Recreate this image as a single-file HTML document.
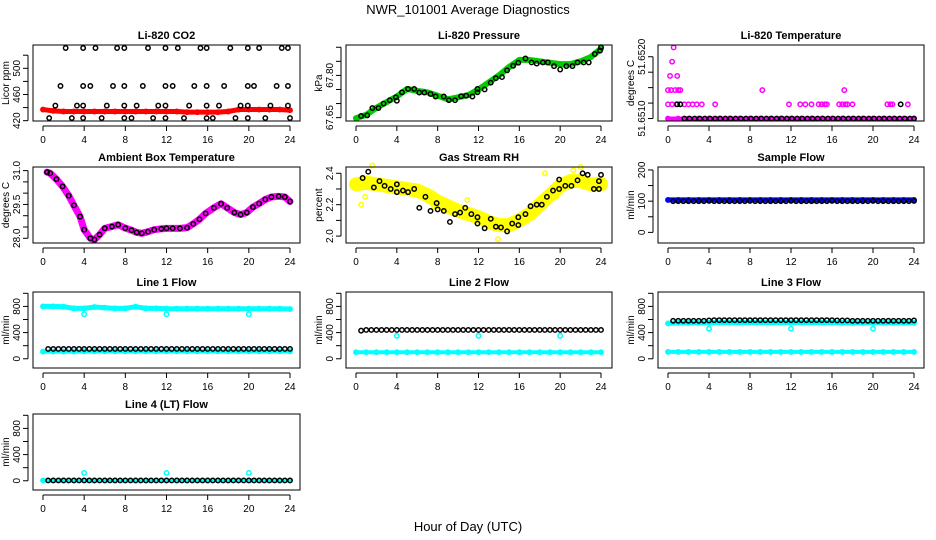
<!DOCTYPE html>
<html><head><meta charset="utf-8"><style>
html,body{margin:0;padding:0;background:#fff;}
svg{display:block;font-family:"Liberation Sans",sans-serif;}
</style></head><body>
<svg id="chart" width="936" height="540" viewBox="0 0 936 540" xmlns="http://www.w3.org/2000/svg">
<rect width="936" height="540" fill="#fff"/>
<text x="468" y="14" font-size="13" text-anchor="middle">NWR_101001  Average Diagnostics</text>
<text x="468" y="531" font-size="13" text-anchor="middle">Hour of Day (UTC)</text>
</svg>
<script>
const hrs=[0,1,2,3,4,5,6,7,8,9,10,11,12,13,14,15,16,17,18,19,20,21,22,23,24];
const halfHrs=[0.5,1,1.5,2,2.5,3,3.5,4,4.5,5,5.5,6,6.5,7,7.5,8,8.5,9,9.5,10,10.5,11,11.5,12,12.5,13,13.5,14,14.5,15,15.5,16,16.5,17,17.5,18,18.5,19,19.5,20,20.5,21,21.5,22,22.5,23,23.5,24];
const xTicks=[0,4,8,12,16,20,24];
const outHrs=[4,12,20];

// CO2
const co2BlackX=[2.2,3.9,5.1,7.2,7.9,10.2,11.9,13.1,15.3,15.9,18.2,19.9,21.0,23.2,23.8,
 1.7,3.9,4.6,6.8,7.9,9.7,11.9,12.6,14.7,15.9,17.6,19.9,20.5,22.7,23.8,
 1.2,3.3,3.9,6.2,7.9,9.1,11.2,11.9,14.2,15.9,17.1,19.2,19.9,22.1,23.8,
 0.6,2.8,3.9,5.7,7.9,8.6,10.7,11.9,13.7,15.9,16.5,18.7,19.9,21.6,24];
const co2BlackY=[531,531,531,531,531,531,531,531,531,531,531,531,531,531,531,
 473,473,473,473,473,473,473,473,473,473,473,473,473,473,473,
 443,443,443,443,443,443,443,443,443,443,443,443,443,443,443,
 424,424,424,424,424,424,424,424,424,424,424,424,424,424,424];
const co2Red=[437,435,434,434,434,434,434,434,434,434,434,434,434,434,433,433,433,433,434,437,437,437,437,437,436];

// Pressure
const presBlackX=[0.5,1.1,1.6,2.2,2.7,3.3,3.9,4.0,4.5,5.1,5.7,6.2,6.7,7.3,7.8,8.6,9.1,9.7,10.3,10.8,11.4,11.9,11.9,12.6,13.2,13.7,14.3,14.8,15.4,15.9,16.6,17.2,17.7,18.3,18.8,19.4,20.0,20.6,21.2,21.7,22.3,22.8,23.4,23.9,24];
const presBlackY=[67.656,67.658,67.684,67.684,67.70,67.712,67.722,67.71,67.74,67.752,67.752,67.739,67.739,67.734,67.725,67.725,67.712,67.712,67.726,67.728,67.725,67.752,67.74,67.75,67.774,67.79,67.794,67.818,67.834,67.845,67.86,67.846,67.842,67.846,67.846,67.833,67.821,67.833,67.833,67.846,67.846,67.846,67.876,67.888,67.9];
const presGreen=[67.648,67.66,67.685,67.705,67.725,67.752,67.745,67.74,67.728,67.715,67.722,67.73,67.75,67.775,67.80,67.83,67.855,67.855,67.85,67.845,67.84,67.84,67.85,67.865,67.895];

// Li-820 temperature
const tempBlackX=[0.9,1.2,22.7,1.6,2.1,2.6,3.1,3.6,4.1,4.6,5.1,5.6,6.1,6.6,7.1,7.6,8.1,8.6,9.1,9.6,10.1,10.6,11.1,11.6,12.1,12.6,13.1,13.6,14.1,14.6,15.1,15.6,16.1,16.6,17.1,17.6,18.1,18.6,19.1,19.6,20.1,20.6,21.1,21.6,22.1,22.6,23.1,23.6,24];
const tempBlackY=[51.65123,51.65123,51.65123,51.6510,51.6510,51.6510,51.6510,51.6510,51.6510,51.6510,51.6510,51.6510,51.6510,51.6510,51.6510,51.6510,51.6510,51.6510,51.6510,51.6510,51.6510,51.6510,51.6510,51.6510,51.6510,51.6510,51.6510,51.6510,51.6510,51.6510,51.6510,51.6510,51.6510,51.6510,51.6510,51.6510,51.6510,51.6510,51.6510,51.6510,51.6510,51.6510,51.6510,51.6510,51.6510,51.6510,51.6510,51.6510,51.6510];
const tempMagBand=[51.6510,51.6510,51.6510,51.6510,51.6510,51.6510,51.6510,51.6510,51.6510,51.6510,51.6510,51.6510,51.6510,51.6510,51.6510,51.6510,51.6510,51.6510,51.6510,51.6510,51.6510,51.6510,51.6510,51.6510,51.6510];
const tempMagX=[0,0.4,0.8,1.2,1.6,2.0,2.4,2.8,3.3,4.6,11.8,12.9,13.4,14.0,14.7,15.0,15.3,15.5,16.7,17.0,17.3,17.5,18.0,21.4,21.7,21.9,23.4,0,0.3,0.7,1.0,1.2,9.2,17.2,0.2,0.9,0.4,0.55];
const tempMagY=[51.65123,51.65123,51.65123,51.65123,51.65123,51.65123,51.65123,51.65123,51.65123,51.65123,51.65123,51.65123,51.65123,51.65123,51.65123,51.65123,51.65123,51.65123,51.65123,51.65123,51.65123,51.65123,51.65123,51.65123,51.65123,51.65123,51.65123,51.65146,51.65146,51.65146,51.65146,51.65146,51.65146,51.65146,51.65169,51.65169,51.65192,51.65215];

// Ambient box temperature
const ambX=[0.4,0.7,1.3,1.9,2.5,3.0,3.6,4.0,4.6,5.0,5.5,6.0,6.7,7.3,8.0,8.6,9.1,9.6,10.2,10.8,11.5,12.0,12.6,13.3,14.0,14.6,15.2,15.8,16.6,17.3,17.9,18.6,19.2,19.8,20.4,21.0,21.6,22.2,22.9,23.5,24];
const ambY=[30.93,30.88,30.62,30.30,29.89,29.46,28.96,28.38,28.0,27.94,28.16,28.44,28.52,28.6,28.45,28.36,28.26,28.22,28.29,28.38,28.42,28.44,28.44,28.44,28.47,28.64,28.84,29.1,29.35,29.53,29.35,29.14,29.05,29.14,29.38,29.54,29.72,29.83,29.86,29.83,29.63];

// Gas stream RH
const rhBlackX=[0.65,1.2,1.75,2.3,2.8,3.4,4.0,4.0,4.6,5.1,5.7,6.2,6.8,7.3,7.9,8.0,8.6,9.2,9.7,10.2,10.7,11.3,11.9,11.9,12.6,13.2,13.7,14.2,14.8,15.3,15.9,15.9,16.6,17.1,17.7,18.2,18.7,19.3,19.9,19.9,20.5,21.1,21.7,22.2,22.7,23.3,23.8,23.8,24];
const rhBlackY=[2.37,2.41,2.31,2.35,2.32,2.30,2.33,2.28,2.29,2.28,2.30,2.18,2.25,2.16,2.21,2.17,2.16,2.09,2.14,2.15,2.18,2.14,2.12,2.08,2.05,2.11,2.06,2.055,2.03,2.08,2.12,2.07,2.14,2.19,2.20,2.20,2.25,2.29,2.30,2.36,2.32,2.32,2.355,2.40,2.39,2.30,2.35,2.30,2.39];
const rhYellow=[2.33,2.34,2.33,2.32,2.31,2.30,2.29,2.26,2.22,2.19,2.16,2.14,2.12,2.09,2.07,2.07,2.10,2.14,2.20,2.26,2.32,2.35,2.35,2.33,2.33];
const rhYelOutX=[0.5,0.9,1.6,7.6,10.9,13.9,18.5,19.6,21.3,22.0];
const rhYelOutY=[2.20,2.25,2.45,2.19,2.23,1.98,2.40,2.25,2.42,2.44];

// Sample flow
const sampBlue=[104,104,104,104,104,104,104,104,104,104,104,104,104,104,104,104,104,104,104,104,104,104,104,104,104];
const sampBlack=[100,100,100,100,100,100,100,101,100,100,100,100,100,100,100,101,100,100,100,100,100,100,100,101,100,100,100,100,100,100,100,101,100,100,100,100,100,100,100,101,100,100,100,100,100,100,100,101];

// Flow lines
const l1CyanTop=[800,800,795,770,770,790,780,770,770,795,770,770,765,765,765,765,765,765,765,765,765,765,765,765,760];
const l1CyanLow=[110,110,110,110,115,115,115,115,115,115,115,115,115,115,115,115,115,115,115,115,115,115,115,115,115];
const l1Out=[680,680,680];
const l1Black=[150,150,150,150,150,150,150,150,150,150,150,150,150,150,150,150,150,150,150,150,150,150,150,150,150,150,150,150,150,150,150,150,150,150,150,150,150,150,150,150,150,150,150,150,150,150,150,150];
const l2CyanLow=[100,100,100,100,100,100,100,100,100,100,100,100,100,100,100,100,100,100,100,100,100,100,100,100,100];
const l2Out=[350,350,350];
const l2Black=[430,440,440,440,440,440,440,440,440,440,440,440,440,440,440,440,440,440,440,440,440,440,440,440,440,440,440,440,440,440,440,440,440,440,440,440,440,440,440,440,440,440,440,440,440,440,440,440];
const l3CyanTop=[540,550,550,550,550,555,555,555,555,555,555,555,555,555,555,555,555,550,550,550,550,550,550,550,550];
const l3CyanLow=[105,105,105,105,105,105,105,105,105,105,105,105,105,105,105,105,105,105,105,105,105,105,105,105,105];
const l3Out=[460,460,460];
const l3Black=[580,580,580,580,580,580,580,585,590,590,590,590,590,590,590,590,590,590,590,590,590,590,590,590,590,590,590,590,590,590,590,590,585,585,585,580,580,580,580,580,580,580,580,580,580,580,580,585];
const l4Cyan=[5,5,5,5,5,5,5,5,5,5,5,5,5,5,5,5,5,5,5,5,5,5,5,5,5];
const l4Out=[120,120,120];
const l4Black=[5,5,5,5,5,5,5,5,5,5,5,5,5,5,5,5,5,5,5,5,5,5,5,5,5,5,5,5,5,5,5,5,5,5,5,5,5,5,5,5,5,5,5,5,5,5,5,5];

const NS="http://www.w3.org/2000/svg";
const svg=document.getElementById('chart');
const COLS=[{b0:33,b1:300,x0:43,x24:290},{b0:346,b1:612,x0:356,x24:601},{b0:658,b1:924,x0:668,x24:914}];
const ROWS=[45,167,292,414];
const PH=76;
function mk(tag,attrs,parent){const e=document.createElementNS(NS,tag);for(const k in attrs)e.setAttribute(k,attrs[k]);(parent||svg).appendChild(e);return e;}

function panel(p){
  const c=COLS[p.col],top=ROWS[p.row],bot=top+PH;
  const g=mk('g',{});
  
  
  const xs=v=>c.x0+(c.x24-c.x0)*v/24;
  const ys=v=>bot-(v-p.ymin)/(p.ymax-p.ymin)*PH;
  const t=mk('text',{x:(c.b0+c.b1)/2,y:top-6,'font-size':11,'font-weight':'bold','text-anchor':'middle'},g);
  t.textContent=p.title;
  
  
  p.series.forEach(s=>{
    const sg=mk('g',{},g);
    
    
    if(s.band){
      const pts=s.x.map((xv,i)=>xs(xv)+','+ys(s.y[i])).join(' ');
      mk('polyline',{points:pts,fill:'none',stroke:s.color,'stroke-width':s.band,'stroke-linecap':'round','stroke-linejoin':'round'},sg);
    }
    s.x.forEach((xv,i)=>{
      const ci=mk('circle',{cx:xs(xv),cy:ys(s.y[i]),r:2.2,fill:'none',stroke:s.color,'stroke-width':1.5},sg);
      
      
    });
  });
  const bx=mk('rect',{x:c.b0,y:top,width:c.b1-c.b0,height:PH,fill:'none',stroke:'#000','stroke-width':1},g);
  
  
  const xa=mk('g',{},g);
  
  
  mk('line',{x1:xs(0),x2:xs(24),y1:bot+5,y2:bot+5,stroke:'#000'},xa);
  xTicks.forEach(v=>{
    mk('line',{x1:xs(v),x2:xs(v),y1:bot+5,y2:bot+10,stroke:'#000'},xa);
    const tl=mk('text',{x:xs(v),y:bot+22,'font-size':10,'text-anchor':'middle'},xa);
    tl.textContent=v;
  });
  const ya=mk('g',{},g);
  
  
  const ax=c.b0-5;
  mk('line',{x1:ax,x2:ax,y1:ys(p.ticks[0]),y2:ys(p.ticks[p.ticks.length-1]),stroke:'#000'},ya);
  p.ticks.forEach(v=>mk('line',{x1:ax,x2:ax-5,y1:ys(v),y2:ys(v),stroke:'#000'},ya));
  p.labels.forEach((v,i)=>{
    const y=ys(v),x=ax-8;
    const tl=mk('text',{x:x,y:y,'font-size':10,'text-anchor':'middle',transform:`rotate(-90 ${x} ${y})`},ya);
    tl.textContent=p.labelText[i];
  });
  const yt=mk('text',{x:c.b0-24,y:(top+bot)/2,'font-size':10,'text-anchor':'middle',transform:`rotate(-90 ${c.b0-24} ${(top+bot)/2})`},ya);
  yt.textContent=p.ylab;
  
  
}

const flowTicks=[0,200,400,600,800,1000],flowLab=[0,400,800],flowLabT=['0','400','800'];
panel({name:'co2-panel',col:0,row:0,title:'Li-820 CO2',ylab:'Licor ppm',ymin:419.5,ymax:535.6,ticks:[420,440,460,480,500,520],labels:[420,460,500],labelText:['420','460','500'],
 series:[{name:'co2-red-series',x:hrs,y:co2Red,color:'#ff0000',band:5},{name:'co2-black-series',x:co2BlackX,y:co2BlackY,color:'#000'}]});
panel({name:'pressure-panel',col:1,row:0,title:'Li-820 Pressure',ylab:'kPa',ymin:67.638,ymax:67.908,ticks:[67.65,67.70,67.75,67.80,67.85,67.90],labels:[67.65,67.80],labelText:['67.65','67.80'],
 series:[{name:'pressure-green-series',x:hrs,y:presGreen,color:'#00cc00',band:6},{name:'pressure-black-series',x:presBlackX,y:presBlackY,color:'#000'}]});
panel({name:'li820-temp-panel',col:2,row:0,title:'Li-820 Temperature',ylab:'degrees C',ymin:51.65096,ymax:51.65219,ticks:[51.6510,51.65125,51.6515,51.65175,51.6520],labels:[51.6510,51.6520],labelText:['51.6510','51.6520'],
 series:[{name:'temp-magenta-band',x:hrs,y:tempMagBand,color:'#ff00ff',band:4},{name:'temp-magenta-series',x:tempMagX,y:tempMagY,color:'#ff00ff'},{name:'temp-black-series',x:tempBlackX,y:tempBlackY,color:'#000'}]});
panel({name:'ambient-temp-panel',col:0,row:1,title:'Ambient Box Temperature',ylab:'degrees C',ymin:27.79,ymax:31.16,ticks:[28,28.5,29,29.5,30,30.5,31],labels:[28,29.5,31],labelText:['28.0','29.5','31.0'],
 series:[{name:'ambient-magenta-series',x:ambX,y:ambY,color:'#ff00ff',band:7},{name:'ambient-black-series',x:ambX,y:ambY,color:'#000'}]});
panel({name:'rh-panel',col:1,row:1,title:'Gas Stream RH',ylab:'percent',ymin:1.956,ymax:2.44,ticks:[2.0,2.1,2.2,2.3,2.4],labels:[2.0,2.2,2.4],labelText:['2.0','2.2','2.4'],
 series:[{name:'rh-yellow-band',x:hrs,y:rhYellow,color:'#ffff00',band:14},{name:'rh-yellow-outliers',x:rhYelOutX,y:rhYelOutY,color:'#ffff00'},{name:'rh-black-series',x:rhBlackX,y:rhBlackY,color:'#000'}]});
panel({name:'sample-flow-panel',col:2,row:1,title:'Sample Flow',ylab:'ml/min',ymin:-34,ymax:209.5,ticks:[0,50,100,150,200],labels:[0,100,200],labelText:['0','100','200'],
 series:[{name:'sample-blue-series',x:hrs,y:sampBlue,color:'#0000ff',band:5},{name:'sample-black-series',x:halfHrs,y:sampBlack,color:'#000'}]});
panel({name:'line1-flow-panel',col:0,row:2,title:'Line 1 Flow',ylab:'ml/min',ymin:-141,ymax:1020,ticks:flowTicks,labels:flowLab,labelText:flowLabT,
 series:[{name:'line1-cyan-top',x:hrs,y:l1CyanTop,color:'#00ffff',band:5},{name:'line1-cyan-low',x:hrs,y:l1CyanLow,color:'#00ffff',band:4},{name:'line1-outliers',x:outHrs,y:l1Out,color:'#00ffff'},{name:'line1-black',x:halfHrs,y:l1Black,color:'#000'}]});
panel({name:'line2-flow-panel',col:1,row:2,title:'Line 2 Flow',ylab:'ml/min',ymin:-141,ymax:1020,ticks:flowTicks,labels:flowLab,labelText:flowLabT,
 series:[{name:'line2-cyan-low',x:hrs,y:l2CyanLow,color:'#00ffff',band:4},{name:'line2-outliers',x:outHrs,y:l2Out,color:'#00ffff'},{name:'line2-black',x:halfHrs,y:l2Black,color:'#000'}]});
panel({name:'line3-flow-panel',col:2,row:2,title:'Line 3 Flow',ylab:'ml/min',ymin:-141,ymax:1020,ticks:flowTicks,labels:flowLab,labelText:flowLabT,
 series:[{name:'line3-cyan-top',x:hrs,y:l3CyanTop,color:'#00ffff',band:5},{name:'line3-cyan-low',x:hrs,y:l3CyanLow,color:'#00ffff',band:4},{name:'line3-outliers',x:outHrs,y:l3Out,color:'#00ffff'},{name:'line3-black',x:halfHrs,y:l3Black,color:'#000'}]});
panel({name:'line4-flow-panel',col:0,row:3,title:'Line 4 (LT) Flow',ylab:'ml/min',ymin:-141,ymax:1020,ticks:flowTicks,labels:flowLab,labelText:flowLabT,
 series:[{name:'line4-cyan',x:hrs,y:l4Cyan,color:'#00ffff',band:4},{name:'line4-outliers',x:outHrs,y:l4Out,color:'#00ffff'},{name:'line4-black',x:halfHrs,y:l4Black,color:'#000'}]});
</script>
</body></html>
